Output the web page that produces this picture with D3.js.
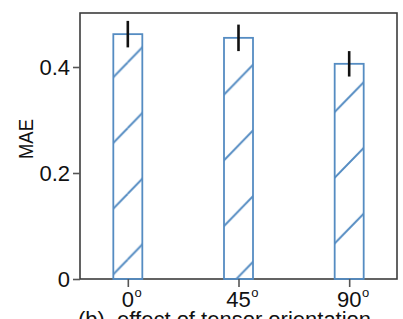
<!DOCTYPE html>
<html><head><meta charset="utf-8">
<script src="https://cdn.jsdelivr.net/npm/d3@7"></script>
<style>body{margin:0;background:#fff}svg{display:block}text{font-family:"Liberation Sans",Arial,sans-serif}</style>
</head><body>
<svg id="c" width="403" height="319"></svg>
<script>
const categories = ["0", "45", "90"];
const values = [0.462, 0.455, 0.406];
const errors = [0.025, 0.025, 0.024];
const yTicks = [0, 0.2, 0.4];
const yTickLabels = ["0", "0.2", "0.4"];

const svg = d3.select("#c");
const L = 80, R = 397, T = 13, B = 279;
const x = d3.scaleLinear().domain([0.568, categories.length + 0.432]).range([L, R]);
const y = d3.scaleLinear().domain([0, 0.5]).range([B, T + 1]);
const barW = 29;
const blue = "#558cc2";

// hatch "/" pattern
const PW = 63.8, PH = 65.7;
const defs = svg.append("defs");
const pat = defs.append("pattern").attr("id", "hatch").attr("patternUnits", "userSpaceOnUse")
  .attr("x", 0).attr("y", -3.2).attr("width", PW).attr("height", PH);
[[0, PH, PW, 0], [-PW, PH * 2, PW * 2, -PH], [-PW * 0.1, PH * 0.1, PW * 0.1, -PH * 0.1],
 [PW * 0.9, PH * 1.1, PW * 1.1, PH * 0.9]].forEach(s => {
  pat.append("line").attr("x1", s[0]).attr("y1", s[1]).attr("x2", s[2]).attr("y2", s[3])
    .attr("stroke", blue).attr("stroke-width", 1.6);
});

// frame
svg.append("rect").attr("x", L).attr("y", T).attr("width", R - L).attr("height", B - T)
  .attr("fill", "none").attr("stroke", "#3c3c3c").attr("stroke-width", 1.6);

// bars
svg.selectAll("rect.bar").data(values).join("rect").attr("class", "bar")
  .attr("x", (d, i) => x(i + 1) - barW / 2)
  .attr("y", d => y(d))
  .attr("width", barW)
  .attr("height", d => y(0) - y(d))
  .attr("fill", "url(#hatch)")
  .attr("stroke", blue).attr("stroke-width", 1.8);

// error bars
svg.selectAll("line.err").data(values).join("line").attr("class", "err")
  .attr("x1", (d, i) => x(i + 1)).attr("x2", (d, i) => x(i + 1))
  .attr("y1", (d, i) => y(d + errors[i])).attr("y2", (d, i) => y(d - errors[i]))
  .attr("stroke", "#111").attr("stroke-width", 2.6);

// y axis ticks
const yAxis = d3.axisLeft(y).tickValues(yTicks).tickSize(7).tickPadding(3)
  .tickFormat((d, i) => yTickLabels[i]);
const gy = svg.append("g").attr("transform", `translate(${L},0)`).call(yAxis);
gy.select(".domain").remove();
gy.selectAll(".tick line").attr("stroke", "#555").attr("stroke-width", 1.6);
gy.selectAll(".tick text").attr("font-size", 22).attr("fill", "#111")
  .attr("font-family", "Liberation Sans, Arial, sans-serif");

// x axis ticks
const xAxis = d3.axisBottom(x).tickValues(categories.map((c, i) => i + 1)).tickSize(8).tickFormat("");
const gx = svg.append("g").attr("transform", `translate(0,${B})`).call(xAxis);
gx.select(".domain").remove();
gx.selectAll(".tick line").attr("stroke", "#555").attr("stroke-width", 1.6);

categories.forEach((c, i) => {
  const t = svg.append("text").attr("x", x(i + 1)).attr("y", 307)
    .attr("text-anchor", "middle").attr("font-size", 22).attr("fill", "#111").text(c);
  const w = t.node().getComputedTextLength();
  svg.append("text").attr("x", x(i + 1) + w / 2 + 0.5).attr("y", 297)
    .attr("font-size", 13).attr("fill", "#111").text("o");
});

// y label
svg.append("text").attr("transform", "translate(33,139) rotate(-90)")
  .attr("text-anchor", "middle").attr("font-size", 21).attr("fill", "#111")
  .attr("textLength", 40).attr("lengthAdjust", "spacingAndGlyphs").text("MAE");

// caption (cut off by bottom edge, as in the reference)
svg.append("text").attr("x", 78).attr("y", 327).attr("font-size", 22).attr("fill", "#111")
  .attr("xml:space", "preserve").text("(b)  effect of tensor orientation");
</script>
</body></html>
